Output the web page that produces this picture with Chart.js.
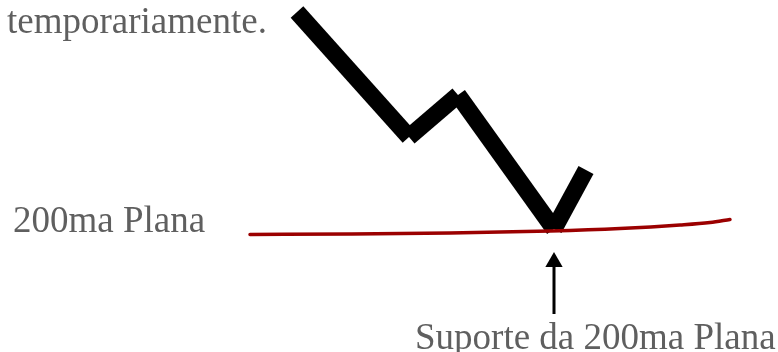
<!DOCTYPE html>
<html>
<head>
<meta charset="utf-8">
<script src="https://cdn.jsdelivr.net/npm/chart.js@4/dist/chart.umd.min.js"></script>
<style>
  html, body { margin: 0; padding: 0; background: #ffffff; }
  #wrap { width: 778px; height: 352px; }
</style>
</head>
<body>
<div id="wrap"><canvas id="c" width="778" height="352"></canvas></div>
<script>
// Price path (schematic units: x = time, y = level measured downward)
const priceX = [297, 409, 458, 554, 586];
const priceY = [12, 137, 95, 229, 170];

// Flat 200-period moving average
const maX = [250, 350, 450, 550, 620, 680, 710, 730];
const maY = [234.5, 234, 233, 231, 228.5, 225, 222.5, 219.5];

// Support arrow (head position, tail position)
const arrowX = [554, 554];
const arrowY = [262, 314];

// Text labels
const labelText = ['temporariamente.', '200ma Plana', 'Suporte da 200ma Plana'];
const labelX = [7, 13, 415];
const labelY = [33, 232, 349];

const datasets = [];
for (let i = 0; i < priceX.length - 1; i++) {
  datasets.push({
    data: [{x: priceX[i], y: priceY[i]}, {x: priceX[i + 1], y: priceY[i + 1]}],
    showLine: true,
    borderColor: '#000000',
    borderWidth: 17,
    borderCapStyle: 'butt',
    pointRadius: 0,
    order: 1
  });
}
datasets.push({
  data: maX.map((x, i) => ({x: x, y: maY[i]})),
  showLine: true,
  borderColor: '#9b0000',
  borderWidth: 3.5,
  cubicInterpolationMode: 'monotone',
  borderCapStyle: 'round',
  pointRadius: 0,
  order: 0
});
datasets.push({
  data: arrowX.map((x, i) => ({x: x, y: arrowY[i]})),
  showLine: true,
  borderColor: '#000000',
  borderWidth: 3,
  pointStyle: 'triangle',
  pointRadius: [10, 0],
  pointBackgroundColor: '#000000',
  pointBorderWidth: 0,
  order: 0
});

const labelPlugin = {
  id: 'labels',
  afterDraw(chart) {
    const ctx = chart.ctx;
    const xs = chart.scales.x, ys = chart.scales.y;
    ctx.save();
    ctx.font = '37px "Liberation Serif", "Times New Roman", serif';
    ctx.fillStyle = '#5f5f5f';
    ctx.textBaseline = 'alphabetic';
    ctx.textAlign = 'left';
    for (let i = 0; i < labelText.length; i++) {
      ctx.fillText(labelText[i], xs.getPixelForValue(labelX[i]), ys.getPixelForValue(labelY[i]));
    }
    ctx.restore();
  }
};

new Chart(document.getElementById('c'), {
  type: 'scatter',
  data: { datasets: datasets },
  options: {
    responsive: false,
    animation: false,
    layout: { padding: 0, autoPadding: false },
    clip: false,
    plugins: { legend: { display: false }, tooltip: { enabled: false } },
    scales: {
      x: { type: 'linear', min: 0, max: 778, display: false },
      y: { type: 'linear', min: 0, max: 352, reverse: true, display: false }
    }
  },
  plugins: [labelPlugin]
});
</script>
</body>
</html>
